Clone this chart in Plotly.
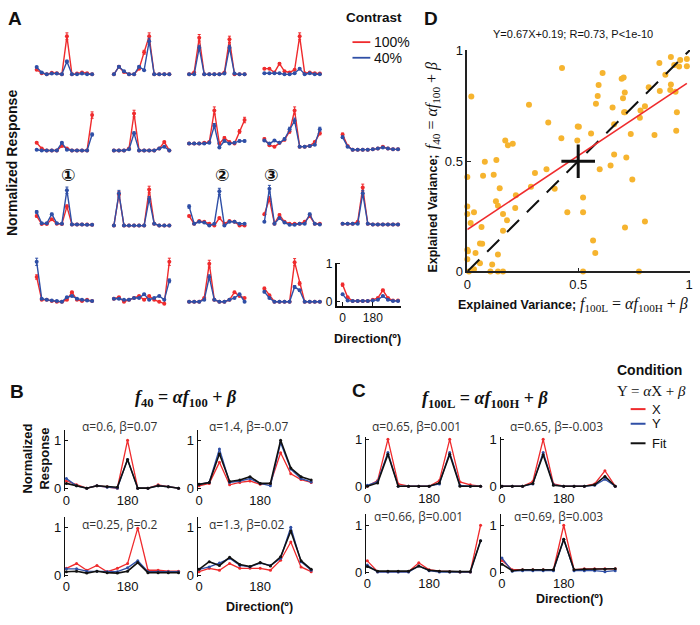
import plotly.graph_objects as go

W, H = 700, 625
RED = '#ef2b2d'
BLUE = '#2f4fa6'
BLACK = '#111111'
ORANGE = '#f6b42f'
SANS = 'Liberation Sans, Arial, sans-serif'
SERIF = 'Liberation Serif, DejaVu Serif, serif'
NOTE = 'Open Sans, sans-serif'

directions = list(range(0, 331, 30))

# ---- panel A: normalized responses, 100% (red) vs 40% (blue) contrast
a_row1_100 = [[0.12, 0.03, 0.0, 0.04, 0.03, 0.0, 1.0, 0.0, 0.02, 0.05, 0.03, 0.0],
              [0.0, 0.2, 0.06, 0.0, 0.0, 0.15, 0.58, 1.0, 0.0, 0.0, 0.0, 0.0],
              [0.0, 0.05, 0.96, 0.0, 0.0, 0.0, 0.0, 0.05, 0.92, 0.0, 0.0, 0.0],
              [0.15, 0.15, 0.05, 0.28, 0.08, 0.05, 0.12, 1.0, 0.03, 0.05, 0.03, 0.02]]
a_row1_40 = [[0.19, 0.05, 0.0, 0.02, 0.02, 0.0, 0.34, 0.0, 0.0, 0.02, 0.0, 0.0],
             [0.0, 0.2, 0.08, 0.0, 0.0, 0.2, 0.11, 0.87, 0.0, 0.0, 0.0, 0.0],
             [0.0, 0.0, 0.7, 0.0, 0.0, 0.0, 0.0, 0.02, 0.7, 0.02, 0.0, 0.0],
             [0.03, 0.03, 0.03, 0.03, 0.0, 0.0, 0.03, 0.15, 0.0, 0.03, 0.0, 0.0]]
a_row2_100 = [[0.2, 0.05, 0.0, 0.0, 0.0, 0.12, 0.05, 0.0, 0.0, 0.0, 0.0, 0.93],
              [0.0, 0.0, 0.0, 0.05, 0.97, 0.0, 0.0, 0.0, 0.0, 0.05, 0.22, 0.0],
              [0.18, 0.18, 0.18, 0.2, 0.22, 1.05, 0.18, 0.33, 0.22, 0.18, 0.5, 0.8],
              [0.3, 0.14, 0.1, 0.2, 0.28, 0.5, 1.05, 0.1, 0.1, 0.12, 0.22, 0.45],
              [0.42, 0.12, 0.02, 0.02, 0.02, 0.02, 0.03, 0.05, 0.1, 0.05, 0.03, 0.03]]
a_row2_40 = [[0.02, 0.0, 0.0, 0.0, 0.0, 0.2, 0.02, 0.0, 0.0, 0.0, 0.0, 0.42],
             [0.0, 0.0, 0.0, 0.03, 0.45, 0.0, 0.0, 0.0, 0.0, 0.05, 0.1, 0.0],
             [0.18, 0.18, 0.18, 0.18, 0.2, 0.65, 0.08, 0.25, 0.18, 0.2, 0.25, 0.25],
             [0.26, 0.18, 0.26, 0.2, 0.3, 0.56, 0.78, 0.1, 0.1, 0.12, 0.15, 0.56],
             [0.35, 0.1, 0.02, 0.02, 0.02, 0.02, 0.03, 0.05, 0.08, 0.05, 0.03, 0.03]]
a_row3_100 = [[0.25, 0.04, 0.04, 0.17, 0.05, 0.04, 0.5, 0.03, 0.03, 0.03, 0.03, 0.02],
              [0.0, 0.82, 0.0, 0.0, 0.0, 0.0, 0.0, 0.95, 0.05, 0.0, 0.0, 0.0],
              [0.25, 0.05, 0.12, 0.1, 0.05, 0.0, 0.2, 0.05, 0.12, 0.1, 0.0, 0.0],
              [0.3, 0.7, 0.05, 0.28, 0.1, 0.05, 0.05, 0.05, 0.1, 0.25, 0.05, 0.05],
              [0.05, 0.05, 0.05, 0.1, 1.0, 0.05, 0.03, 0.03, 0.03, 0.03, 0.03, 0.03]]
a_row3_40 = [[0.36, 0.06, 0.06, 0.3, 0.06, 0.05, 0.93, 0.03, 0.03, 0.03, 0.02, 0.02],
             [0.0, 0.85, 0.0, 0.0, 0.0, 0.0, 0.0, 0.7, 0.05, 0.0, 0.0, 0.0],
             [0.5, 0.05, 0.1, 0.08, 0.0, 0.05, 0.9, 0.0, 0.1, 0.1, 0.05, 0.05],
             [0.1, 0.97, 0.05, 0.2, 0.08, 0.02, 0.02, 0.05, 0.05, 0.3, 0.05, 0.03],
             [0.05, 0.05, 0.05, 0.05, 0.85, 0.05, 0.03, 0.03, 0.03, 0.03, 0.03, 0.03]]
a_row4_100 = [[0.65, 0.05, 0.05, 0.02, 0.0, 0.0, 0.05, 0.25, 0.05, 0.02, 0.05, 0.02],
              [0.08, 0.12, 0.0, 0.05, 0.1, 0.15, 0.05, 0.15, 0.05, 0.0, -0.05, 1.05],
              [0.0, 0.0, 0.0, 0.1, 1.0, 0.05, 0.0, 0.0, 0.05, 0.25, 0.15, 0.1],
              [0.35, 0.17, 0.0, 0.0, 0.0, 0.0, 1.04, 0.48, 0.0, 0.0, 0.0, 0.0],
              [0.45, 0.12, 0.02, 0.02, 0.02, 0.02, 0.05, 0.1, 0.3, 0.1, 0.03, 0.03]]
a_row4_40 = [[1.05, 0.08, 0.05, 0.03, 0.02, 0.0, 0.12, 0.15, 0.08, 0.05, 0.03, 0.02],
             [0.08, 0.08, 0.05, 0.05, 0.1, 0.1, 0.2, 0.05, 0.1, 0.15, 0.05, 0.55],
             [0.0, 0.0, 0.0, 0.05, 0.65, 0.05, 0.0, 0.0, 0.05, 0.1, 0.2, 0.0],
             [0.26, 0.1, 0.0, 0.0, 0.0, 0.0, 0.39, 0.3, 0.0, 0.0, 0.0, 0.0],
             [0.2, 0.03, 0.02, 0.02, 0.02, 0.02, 0.03, 0.05, 0.15, 0.05, 0.02, 0.02]]

# ---- panel B: f40 = a*f100 + b  (X red, Y blue, Fit black)
b_x = [[0.15, 0.07, 0.0, 0.05, 0.03, 0.0, 1.0, 0.0, 0.0, 0.07, 0.03, 0.0],
       [0.05, 0.1, 0.54, 0.07, 0.12, 0.15, 0.08, 0.1, 0.74, 0.3, 0.18, 0.12],
       [0.14, 0.24, 0.1, 0.2, 0.07, 0.14, 0.24, 0.98, 0.1, 0.1, 0.08, 0.08],
       [0.07, 0.14, 0.1, 0.24, 0.14, 0.14, 0.14, 0.1, 0.31, 0.69, 0.17, 0.07]]
b_y = [[0.2, 0.05, 0.0, 0.05, 0.02, 0.0, 0.6, 0.0, 0.0, 0.05, 0.03, 0.0],
       [0.08, 0.12, 0.82, 0.12, 0.15, 0.2, 0.1, 0.05, 0.95, 0.4, 0.2, 0.13],
       [0.13, 0.13, 0.08, 0.08, 0.07, 0.07, 0.15, 0.3, 0.07, 0.07, 0.07, 0.07],
       [0.12, 0.17, 0.25, 0.35, 0.2, 0.17, 0.25, 0.2, 0.35, 1.0, 0.28, 0.1]]
b_fit = [[0.1, 0.05, 0.0, 0.05, 0.03, 0.02, 0.6, 0.0, 0.0, 0.05, 0.03, 0.0],
         [0.08, 0.12, 0.72, 0.14, 0.17, 0.24, 0.1, 0.1, 1.0, 0.42, 0.24, 0.17],
         [0.07, 0.08, 0.04, 0.08, 0.05, 0.04, 0.08, 0.26, 0.05, 0.05, 0.05, 0.05],
         [0.12, 0.28, 0.2, 0.37, 0.22, 0.18, 0.26, 0.19, 0.38, 0.92, 0.3, 0.12]]
b_notes = ['α=0.6, β=0.07', 'α=1.4, β=-0.07', 'α=0.25, β=0.2', 'α=1.3, β=0.02']

# ---- panel C: f100L = a*f100H + b
c_x = [[0.0, 0.12, 1.0, 0.05, 0.0, 0.0, 0.0, 0.12, 1.0, 0.09, 0.03, 0.0],
       [0.0, 0.0, 0.0, 0.1, 1.0, 0.05, 0.0, 0.0, 0.0, 0.05, 0.33, 0.0],
       [0.24, 0.01, 0.01, 0.01, 0.01, 0.2, 0.05, 0.02, 0.01, 0.0, 0.0, 1.0],
       [0.25, 0.05, 0.05, 0.05, 0.05, 0.05, 1.0, 0.05, 0.07, 0.07, 0.07, 0.07]]
c_y = [[0.02, 0.1, 0.72, 0.0, 0.0, 0.0, 0.0, 0.05, 0.72, 0.02, 0.0, 0.0],
       [0.0, 0.0, 0.0, 0.05, 0.72, 0.03, 0.0, 0.0, 0.0, 0.02, 0.15, 0.0],
       [0.15, 0.0, 0.0, 0.0, 0.0, 0.13, 0.03, 0.0, 0.0, 0.0, 0.0, 0.67],
       [0.3, 0.02, 0.03, 0.03, 0.03, 0.03, 0.7, 0.03, 0.03, 0.03, 0.01, 0.03]]
c_fit = [[0.0, 0.07, 0.68, 0.0, 0.0, 0.0, 0.0, 0.07, 0.68, 0.0, 0.0, 0.0],
         [0.0, 0.0, 0.0, 0.06, 0.67, 0.02, 0.0, 0.0, 0.0, 0.03, 0.21, 0.0],
         [0.12, 0.02, 0.02, 0.02, 0.02, 0.13, 0.04, 0.02, 0.01, 0.01, 0.01, 0.67],
         [0.17, 0.03, 0.05, 0.05, 0.05, 0.05, 0.7, 0.05, 0.06, 0.06, 0.06, 0.07]]
c_notes = ['α=0.65, β=0.001', 'α=0.65, β=-0.003', 'α=0.66, β=0.001', 'α=0.69, β=0.003']

# ---- panel D: explained variance scatter
d_x = [0.018, 0.427, 0.278, 0.365, 0.171, 0.183, 0.205, 0.079, 0.131, 0.071, 0.119, 0.0,
       0.357, 0.305, 0.287, 0.394, 0.146, 0.219, 0.129, 0.138, 0.216, 0.0, 0.0, 0.030,
       0.161, 0.179, 0.015, 0.161, 0.064, 0.057, 0.067, 0.0, 0.003, 0.037, 0.138, 0.0,
       0.057, 0.112, 0.030, 0.104, 0.138, 0.161, 0.007, 0.498, 0.503, 0.496, 0.424, 0.558,
       0.522, 0.451, 0.522, 0.567, 0.577, 0.522, 0.597, 0.646, 0.662, 0.717, 0.662, 0.737,
       0.707, 0.711, 0.744, 0.702, 0.710, 0.696, 0.705, 0.580, 0.588, 0.592, 0.610, 0.655,
       0.711, 0.774, 0.801, 0.778, 0.781, 0.801, 0.818, 0.844, 0.868, 0.915, 0.918, 0.893,
       0.866, 0.918, 0.933, 0.960, 0.990, 0.990, 0.955, 0.945, 0.942, 0.939]
d_y = [0.793, 0.923, 0.756, 0.675, 0.594, 0.572, 0.579, 0.498, 0.505, 0.434, 0.439, 0.428,
       0.464, 0.446, 0.384, 0.375, 0.377, 0.346, 0.318, 0.298, 0.288, 0.295, 0.261, 0.269,
       0.261, 0.232, 0.220, 0.185, 0.202, 0.127, 0.126, 0.099, 0.092, 0.084, 0.077, 0.055,
       0.037, 0.032, 0.010, 0.0, 0.0, 0.0, 0.0, 0.657, 0.656, 0.594, 0.604, 0.626,
       0.269, 0.269, 0.335, 0.140, 0.084, 0.0, 0.464, 0.480, 0.530, 0.517, 0.668, 0.623,
       0.722, 0.722, 0.417, 0.786, 0.812, 0.874, 0.879, 0.761, 0.796, 0.845, 0.900, 0.743,
       0.199, 0.0, 0.227, 0.697, 0.730, 0.749, 0.835, 0.619, 0.818, 0.823, 0.848, 0.892,
       0.945, 0.973, 0.936, 0.959, 0.963, 0.931, 0.929, 0.722, 0.638, 0.815]
fit_x = [0.0, 0.99]
fit_y = [0.19, 0.853]
unity = [0.0, 1.02]
centre = [0.5]

fig = go.Figure()
axes = {}
count = [0]


def new_axes(x0, deg_px, xr, y0, unit_px, yr):
    # x0/y0: pixel of (0 deg, value 0); deg_px/unit_px: pixels per unit
    count[0] += 1
    n = count[0]
    s = '' if n == 1 else str(n)
    xd = [(x0 + xr[0] * deg_px) / W, (x0 + xr[1] * deg_px) / W]
    yd = [1 - (y0 - yr[0] * unit_px) / H, 1 - (y0 - yr[1] * unit_px) / H]
    xa = dict(domain=xd, range=xr, anchor='y' + s, showgrid=False, zeroline=False, visible=False)
    ya = dict(domain=yd, range=yr, anchor='x' + s, showgrid=False, zeroline=False, visible=False)
    axes['xaxis' + s] = xa
    axes['yaxis' + s] = ya
    return 'x' + s, 'y' + s, xa, ya


def curve(xa, ya, ys, color, err=False, size=3.5, width=1.3):
    tr = go.Scatter(x=directions, y=ys, xaxis=xa, yaxis=ya, mode='lines+markers',
                    line=dict(color=color, width=width), marker=dict(color=color, size=size),
                    showlegend=False, hoverinfo='skip', cliponaxis=False)
    if err:
        tr.update(error_y=dict(type='percent', value=9, color=color, thickness=1, width=1.5))
    fig.add_trace(tr)


# panel A grid
a_cols = [33, 111, 187, 263, 342]
a_rows = [69, 147, 224, 302]
a_deg = 56 / 330
a_100 = [a_row1_100, a_row2_100, a_row3_100, a_row4_100]
a_40 = [a_row1_40, a_row2_40, a_row3_40, a_row4_40]
for r, y0 in enumerate(a_rows):
    for c in range(len(a_100[r])):
        last = (r == 3 and c == 4)
        yr = [-0.1, 1.03] if last else [-0.15, 1.25]
        xn, yn, xa, ya = new_axes(a_cols[c], a_deg, [-35, 345], y0, 39, yr)
        if last:
            xa.update(visible=True, showline=True, linecolor=BLACK, linewidth=1.5, ticks='inside',
                      ticklen=4, tickcolor=BLACK, tickvals=[0, 180], ticktext=['0', '180'],
                      tickfont=dict(family=SANS, size=12, color=BLACK))
            ya.update(visible=True, showline=True, linecolor=BLACK, linewidth=1.5, ticks='inside',
                      ticklen=4, tickcolor=BLACK, tickvals=[0, 1], ticktext=['0', '1'],
                      tickfont=dict(family=SANS, size=12, color=BLACK))
        curve(xn, yn, a_100[r][c], RED, err=True, size=4, width=1.4)
        curve(xn, yn, a_40[r][c], BLUE, err=True, size=4, width=1.4)


def style_small(xa, ya):
    xa.update(visible=True, showline=False, ticks='', tickvals=[0, 180], ticktext=['0', '180'],
              tickfont=dict(family=SANS, size=13, color=BLACK))
    ya.update(visible=True, showline=True, linecolor=BLACK, linewidth=1.3, ticks='inside',
              ticklen=3, tickcolor=BLACK, tickvals=[0, 1], ticktext=['0', '1'],
              tickfont=dict(family=SANS, size=13, color=BLACK))


# panel B (2x2)
b_pos = [(63, 493), (197, 493), (63, 582), (197, 582)]
for i, (x0, y0) in enumerate(b_pos):
    xn, yn, xa, ya = new_axes(x0, 10.3 / 30, [-4, 334], y0, 49, [-0.05, 1.22])
    style_small(xa, ya)
    curve(xn, yn, b_x[i], RED, size=3, width=1.3)
    curve(xn, yn, b_y[i], BLUE, size=3, width=1.3)
    curve(xn, yn, b_fit[i], BLACK, size=3, width=1.6)

# panel C (2x2)
c_pos = [(367, 491, 1.06), (503, 491, 1.06), (367, 579, 1.23), (503, 579, 1.23)]
for i, (x0, y0, top) in enumerate(c_pos):
    xn, yn, xa, ya = new_axes(x0, 10.4 / 30, [-4, 334], y0, 48, [-0.05, top])
    style_small(xa, ya)
    curve(xn, yn, c_x[i], RED, size=3, width=1.3)
    curve(xn, yn, c_y[i], BLUE, size=3, width=1.3)
    curve(xn, yn, c_fit[i], BLACK, size=3, width=1.6)

# panel D
xn, yn, xa, ya = new_axes(468, 224, [0, 1.004], 271, 226, [0, 1.004])
for ax in (xa, ya):
    ax.update(visible=True, showline=True, linecolor='#222', linewidth=1.6, ticks='inside',
              ticklen=4, tickcolor='#222', tickvals=[0, 0.5, 1], ticktext=['0', '0.5', '1'],
              tickfont=dict(family=SANS, size=13, color=BLACK))
fig.add_trace(go.Scatter(x=d_x, y=d_y, xaxis=xn, yaxis=yn, mode='markers', cliponaxis=False,
                         marker=dict(color=ORANGE, size=6), showlegend=False, hoverinfo='skip'))
fig.add_trace(go.Scatter(x=unity, y=unity, xaxis=xn, yaxis=yn, mode='lines', cliponaxis=False,
                         line=dict(color=BLACK, width=2, dash='17px,11px'), showlegend=False))
fig.add_trace(go.Scatter(x=fit_x, y=fit_y, xaxis=xn, yaxis=yn, mode='lines',
                         line=dict(color=RED, width=1.6), showlegend=False))
fig.add_trace(go.Scatter(x=centre, y=centre, xaxis=xn, yaxis=yn, mode='markers', cliponaxis=False,
                         marker=dict(symbol='cross-thin', size=24, line=dict(color=BLACK, width=3)),
                         showlegend=False))

notes = []


def note(px, py, text, size=13, family=SANS, color=BLACK, angle=0, xanchor='center'):
    notes.append(dict(x=px / W, y=1 - py / H, xref='paper', yref='paper', text=text, showarrow=False,
                      textangle=angle, xanchor=xanchor, yanchor='middle',
                      font=dict(family=family, size=size, color=color)))


# panel letters
note(11, 12, '<b>A</b>', 19)
note(431, 12, '<b>D</b>', 19)
note(13, 394, '<b>B</b>', 19)
note(359, 393, '<b>C</b>', 19)

# panel A labels
note(8, 160, '<b>Normalized Response</b>', 14, angle=-90)
note(367, 340, '<b>Direction(º)</b>', 12.5)
for px, txt in [(65, '①'), (220, '②'), (270, '③')]:
    note(px, 172, '<b>' + txt + '</b>', 17, family='DejaVu Sans')
note(374, 11, '<b>Contrast</b>', 13.5)
note(372, 36, '100%', 14, xanchor='left')
note(372, 52, '40%', 14, xanchor='left')

# panel D labels
note(575, 28, 'Y=0.67X+0.19; R=0.73, P<1e-10', 11)
note(433, 212, '<b>Explained Variance;</b>', 12.5, angle=-90)
note(433, 101, '<i>f</i><sub>40</sub> = <i>αf</i><sub>100</sub> + <i>β</i>', 16,
     family=SERIF, angle=-90)
note(518, 305, '<b>Explained Variance;</b>', 12.5)
note(636, 305, '<i>f</i><sub>100L</sub> = <i>αf</i><sub>100H</sub> + <i>β</i>', 16, family=SERIF)

# panel B / C labels
note(184, 401, '<b><i>f</i><sub>40</sub> = <i>αf</i><sub>100</sub> + <i>β</i></b>', 18, family=SERIF)
note(486, 402, '<b><i>f</i><sub>100L</sub> = <i>αf</i><sub>100H</sub> + <i>β</i></b>', 18, family=SERIF)
for (px, py), txt in zip([(117, 430), (247, 430), (117, 530), (245, 530)], b_notes):
    note(px, py, txt, 12, family=NOTE, color='#333')
for (px, py), txt in zip([(417, 430), (558, 430), (419, 522), (560, 522)], c_notes):
    note(px, py, txt, 12, family=NOTE, color='#333')
note(32, 463, '<b>Normalized<br>Response</b>', 13, angle=-90)
note(258, 615, '<b>Direction(º)</b>', 12.5)
note(571, 607, '<b>Direction(º)</b>', 12.5)

# condition legend
note(652, 372, '<b>Condition</b>', 14)
note(654, 393, 'Y = <i>α</i>X + <i>β</i>', 15, family=SERIF)
for py, txt in [(412, 'X'), (427, 'Y'), (447, 'Fit')]:
    note(653, py, txt, 13, xanchor='left')

shapes = []
for py, col in [(36, RED), (52, BLUE)]:
    shapes.append(dict(type='line', xref='paper', yref='paper', x0=352 / W, x1=370 / W,
                       y0=1 - py / H, y1=1 - py / H, line=dict(color=col, width=1.8)))
for py, col in [(412, RED), (427, BLUE), (447, BLACK)]:
    shapes.append(dict(type='line', xref='paper', yref='paper', x0=633 / W, x1=648 / W,
                       y0=1 - py / H, y1=1 - py / H, line=dict(color=col, width=2)))

fig.update_layout(width=W, height=H, margin=dict(l=0, r=0, t=0, b=0),
                  paper_bgcolor='white', plot_bgcolor='white', showlegend=False,
                  annotations=notes, shapes=shapes, **axes)
fig.write_html('out.html', config={'displayModeBar': False},
               post_script="document.body.style.margin='0px';")
